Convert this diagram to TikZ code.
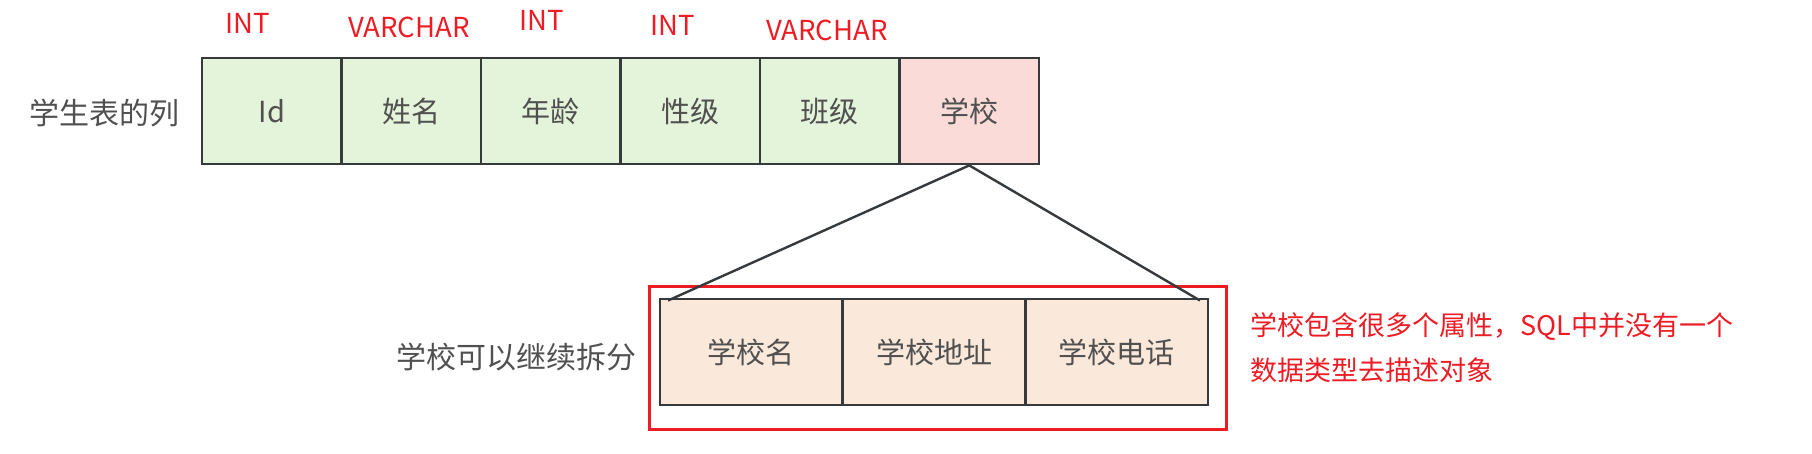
\documentclass[tikz,border=0pt]{standalone}
\usepackage{fontspec}
\newfontfamily\cjk{Noto Sans CJK SC}
\definecolor{cellgreen}{RGB}{227,244,218}
\definecolor{cellpink}{RGB}{250,219,216}
\definecolor{cellpeach}{RGB}{250,232,218}
\definecolor{edgegray}{RGB}{55,58,61}
\definecolor{txtgray}{RGB}{80,80,80}
\definecolor{notered}{RGB}{237,28,36}
\tikzset{
  cell/.style={draw=edgegray, line width=2.8pt, minimum width=139.5pt, minimum height=106pt, inner sep=0pt, text=txtgray, font=\cjk\fontsize{29}{34}\selectfont},
  subcell/.style={cell, minimum width=182.7pt},
  typelbl/.style={text=notered, font=\cjk\fontsize{27.5}{32}\selectfont, inner sep=0pt},
  sidelbl/.style={text=txtgray, font=\cjk\fontsize{30}{34}\selectfont, inner sep=0pt},
  notelbl/.style={text=notered, font=\cjk\fontsize{27}{45}\selectfont, inner sep=0pt, align=left},
  link/.style={draw=edgegray, line width=2.4pt},
  frame/.style={draw=notered, line width=3pt}
}
\begin{document}
\begin{tikzpicture}[x=1pt, y=-1pt]
\useasboundingbox (0,0) rectangle (1812,453);
% top row
\node[cell, fill=cellgreen] (c1) at (271.75,111) {Id};
\node[cell, fill=cellgreen] (c2) at (411.25,111) {姓名};
\node[cell, fill=cellgreen] (c3) at (550.75,111) {年龄};
\node[cell, fill=cellgreen] (c4) at (690.25,111) {性级};
\node[cell, fill=cellgreen] (c5) at (829.75,111) {班级};
\node[cell, fill=cellpink]  (c6) at (969.25,111) {学校};
% type labels
\node[typelbl] (t1) at (248,23) {INT};
\node[typelbl] (t2) at (409,27) {VARCHAR};
\node[typelbl] (t3) at (542,20) {INT};
\node[typelbl] (t4) at (673,25) {INT};
\node[typelbl] (t5) at (827,30) {VARCHAR};
% side labels
\node[sidelbl] (l1) at (104,113) {学生表的列};
\node[sidelbl] (l2) at (516,357) {学校可以继续拆分};
% lower row
\node[subcell, fill=cellpeach] (s1) at (751.3,352) {学校名};
\node[subcell, fill=cellpeach] (s2) at (934,352) {学校地址};
\node[subcell, fill=cellpeach] (s3) at (1116.7,352) {学校电话};
% red frame
\node[frame, minimum width=577pt, minimum height=142.6pt, inner sep=0pt] (fr) at (938.15,358) {};
% connectors
\coordinate (pl) at (668,300.5);
\coordinate (pr) at (1200,300.5);
\draw[link] (c6.south) -- (pl);
\draw[link] (c6.south) -- (pr);
% note
\node[notelbl, anchor=west] (note) at (1250,347.5) {学校包含很多个属性，SQL中并没有一个\\数据类型去描述对象};
\end{tikzpicture}
\end{document}
